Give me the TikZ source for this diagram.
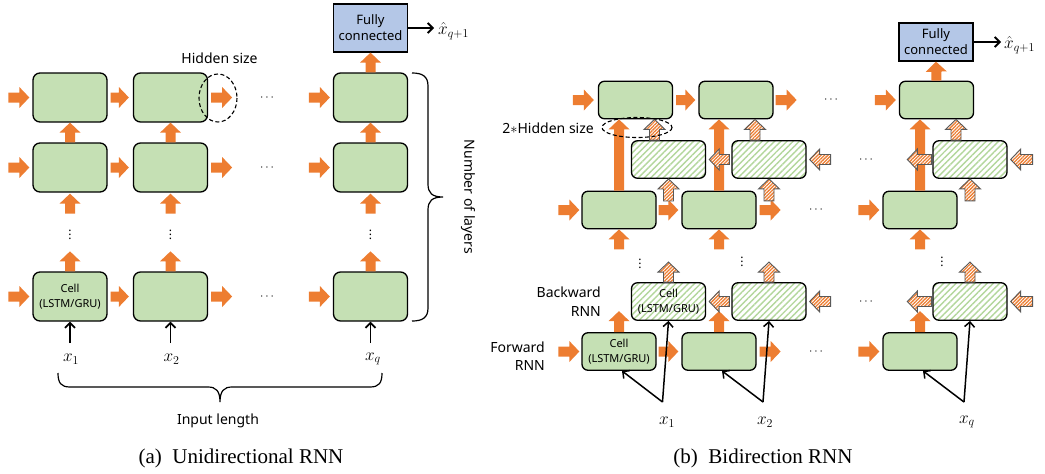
\documentclass[tikz,border=0pt]{standalone}
\usepackage{fontspec}
\setmainfont{Noto Sans}
\newfontfamily\capfont{Liberation Serif}
\usetikzlibrary{calc,arrows.meta,patterns.meta}

\definecolor{rnnorange}{HTML}{ED7D31}
\definecolor{cellgreen}{HTML}{C5E0B4}
\definecolor{hatchgreen}{HTML}{B3D79C}
\definecolor{fcblue}{HTML}{B4C7E7}
\definecolor{hatchedge}{HTML}{595959}

\tikzset{
  % block arrow drawn as a polygon from the start point to the end point
  blk/.style={to path={
    let \p1=(\tikztostart), \p2=(\tikztotarget),
        \n1={atan2(\y2-\y1,\x2-\x1)}, \n2={veclen(\x2-\x1,\y2-\y1)} in
    {[x=1pt,y=1pt,shift={(\p1)},rotate=\n1]
      (0,-5) -- ({\n2-10},-5) -- ({\n2-10},-10.5) -- (\n2,0)
      -- ({\n2-10},10.5) -- ({\n2-10},5) -- (0,5) -- cycle}}},
  fwd/.style={blk, fill=rnnorange},
  bwd/.style={blk, draw=hatchedge, line width=0.9pt, line join=miter,
    preaction={fill=white},
    pattern={Lines[angle=45,distance=2.4pt,line width=1.3pt]}, pattern color=rnnorange},
  cellbase/.style={draw, line width=1.3pt, inner sep=0pt, align=center,
    font=\fontsize{11}{14.5}\selectfont, minimum width=74pt},
  cellA/.style={cellbase, fill=cellgreen, rounded corners=7pt, minimum height=49pt},
  cellF/.style={cellbase, fill=cellgreen, rounded corners=6pt, minimum height=37.5pt},
  cellH/.style={cellbase, rounded corners=6pt, minimum height=37.5pt,
    preaction={fill=white},
    pattern={Lines[angle=45,distance=4.4pt,line width=1.4pt]}, pattern color=hatchgreen},
  fcbox/.style={draw, line width=1.3pt, fill=fcblue, inner sep=0pt, align=center,
    font=\fontsize{13}{16}\selectfont, minimum width=74pt},
  iarrow/.style={-{Straight Barb[length=5pt,width=10pt]}, line width=1.8pt},
  lbl/.style={font=\fontsize{14}{18}\selectfont, inner sep=1pt},
  mlbl/.style={font=\fontsize{18}{20}\selectfont, inner sep=1pt},
  hdots/.style={font=\fontsize{13}{13}\selectfont, inner sep=0pt},
  vdot/.style={font=\fontsize{12}{12}\selectfont, inner sep=0pt},
  oval/.style={draw, dash pattern=on 4pt off 2.5pt, line width=1.1pt},
  brace/.style={line width=1.2pt},
  subcap/.style={font=\capfont\fontsize{21}{24}\selectfont, inner sep=0pt},
}

\begin{document}
\begin{tikzpicture}[x=1pt,y=-1pt]
\useasboundingbox (0,0) rectangle (1045,474);

% ================= (a) unidirectional RNN =================
\foreach \c/\x in {1/70,2/170.5,3/370.5} {
  \node[cellA] (a1\c) at (\x,97.5) {};
  \node[cellA] (a2\c) at (\x,167.5) {};
}
\node[cellA] (a31) at (70,296.5) {Cell\\(LSTM/GRU)};
\node[cellA] (a32) at (170.5,296.5) {};
\node[cellA] (a33) at (370.5,296.5) {};
\node[fcbox, minimum height=48pt] (afc) at (370.5,28) {Fully\\connected};

% recurrent (horizontal) arrows
\foreach \r/\y in {1/97.5,2/167.5,3/297} {
  \path[fwd] ($(a\r1.west)+(-24,0)$) to ($(a\r1.west)+(-3,0)$);
  \path[fwd] ($(a\r1.east)+(3,0)$) to ($(a\r2.west)+(-4,0)$);
  \path[fwd] ($(a\r2.east)+(3,0)$) to ($(a\r2.east)+(24,0)$);
  \path[fwd] ($(a\r3.west)+(-24,0)$) to ($(a\r3.west)+(-3,0)$);
  \node[hdots] (ah\r) at (267,\y) {$\cdots$};
}
% layer-to-layer arrows
\foreach \c/\x in {1/70,2/170.5,3/370.5} {
  \path[fwd] (a2\c.north) to (a1\c.south);
  \path[fwd] ($(a2\c.south)+(0,21)$) to ($(a2\c.south)+(0,1)$);
  \path[fwd] (a3\c.north) to ($(a3\c.north)+(0,-20)$);
  \node[vdot] (av\c) at (\x,232) {$\vdots$};
  \coordinate (ain\c) at (\x,343);
  \draw[iarrow] (ain\c) -- (a3\c.south);
}
\path[fwd] (a13.north) to (afc.south);

\node[mlbl] (ax1) at (71,359) {$x_1$};
\node[mlbl] (ax2) at (171.5,359) {$x_2$};
\node[mlbl] (ax3) at (373,359) {$x_q$};

\node[mlbl, anchor=west] (ya) at (437,31) {$\hat{x}_{q+1}$};
\draw[iarrow, shorten >=3pt] (afc.east) -- (afc.east -| ya.west);

\node[lbl] (hsA) at (219.5,58) {Hidden size};
\draw[oval] (218,98) ellipse [x radius=19, y radius=24];

% braces
\draw[brace] (58,373) .. controls (58,383) and (61,387) .. (70,387) -- (208,387)
  .. controls (216,387) and (220,391) .. (220,402)
  .. controls (220,391) and (224,387) .. (232,387) -- (370,387)
  .. controls (379,387) and (382,383) .. (382,373);
\node[lbl] (inlen) at (218,421) {Input length};
\draw[brace] (412,73) .. controls (422,73) and (428,76) .. (428,86) -- (428,184)
  .. controls (428,193) and (432,197) .. (443,197)
  .. controls (432,197) and (428,201) .. (428,210) -- (428,308)
  .. controls (428,318) and (422,321) .. (412,321);
\node[lbl, rotate=-90] (nlay) at (468,197) {Number of layers};

\node[subcap] (capA) at (241,458) {(a)\ \ Unidirectional RNN};

% ================= (b) bidirectional RNN =================
\foreach \c/\xf/\xb/\xt in {1/619/668.5/635.5, 2/719/769/736, 3/920/970/936.5} {
  \node[cellF] (t\c) at (\xt,100) {};
  \node[cellH] (h\c) at (\xb,159.5) {};
  \node[cellF] (f\c) at (\xf,210) {};
}
\node[cellH] (g1) at (668.5,301.5) {Cell\\(LSTM/GRU)};
\node[cellH] (g2) at (769,301.5) {};
\node[cellH] (g3) at (970,301.5) {};
\node[cellF] (e1) at (619,351.5) {Cell\\(LSTM/GRU)};
\node[cellF] (e2) at (719,351.5) {};
\node[cellF] (e3) at (920,351.5) {};
\node[fcbox, minimum height=38pt] (bfc) at (936,42) {Fully\\connected};

% forward direction, horizontal
\path[fwd] ($(t1.west)+(-25,0)$) to ($(t1.west)+(-4,0)$);
\path[fwd] ($(t1.east)+(3,0)$) to ($(t2.west)+(-3,0)$);
\path[fwd] ($(t2.east)+(2,0)$) to ($(t2.east)+(23,0)$);
\path[fwd] ($(t3.west)+(-24,0)$) to ($(t3.west)+(-3,0)$);
\node[hdots] (bh1) at (831,100) {$\cdots$};
\foreach \r/\y in {f/210,e/352} {
  \path[fwd] ($(\r1.west)+(-23,0)$) to ($(\r1.west)+(-2,0)$);
  \path[fwd] ($(\r1.east)+(2,0)$) to ($(\r2.west)+(-3,0)$);
  \path[fwd] ($(\r2.east)+(3,0)$) to ($(\r2.east)+(24,0)$);
  \path[fwd] ($(\r3.west)+(-24,0)$) to ($(\r3.west)+(-3,0)$);
  \node[hdots] (bh\r) at (816,\y) {$\cdots$};
}
% forward direction, vertical
\foreach \c in {1,2,3} {
  \path[fwd] (f\c.north) to (f\c.north |- t\c.south);
  \path[fwd] ($(f\c.south)+(0,20)$) to (f\c.south);
  \path[fwd] (e\c.north) to ($(e\c.north)+(0,-21)$);
}
\path[fwd] (t3.north) to (bfc.south);

% backward direction
\foreach \r/\y in {h/159.5,g/302} {
  \path[bwd] ($(\r2.west)+(-2,0)$) to ($(\r1.east)+(3,0)$);
  \path[bwd] ($(\r2.east)+(24,0)$) to ($(\r2.east)+(3,0)$);
  \path[bwd] ($(\r3.west)+(-1,0)$) to ($(\r3.west)+(-25,0)$);
  \path[bwd] ($(\r3.east)+(25,0)$) to ($(\r3.east)+(3,0)$);
  \node[hdots] (bk\r) at (866,\y) {$\cdots$};
}
\foreach \c in {1,2,3} {
  \coordinate (hu\c) at ($(h\c.north)+(-14,0)$);
  \path[bwd] (hu\c) to (hu\c |- t\c.south);
  \path[bwd] ($(h\c.south)+(0,22)$) to (h\c.south);
  \path[bwd] (g\c.north) to ($(g\c.north)+(0,-20)$);
}
\node[vdot] (bv1) at (640,261) {$\vdots$};
\node[vdot] (bv2) at (742,259) {$\vdots$};
\node[vdot] (bv3) at (942,259) {$\vdots$};

% inputs
\foreach \c/\x in {1/662.5,2/763,3/964} {
  \coordinate (ap\c) at (\x,402);
  \draw[iarrow, line width=1.5pt] (ap\c) -- ($(e\c.south)+(3,0)$);
  \draw[iarrow, line width=1.5pt] (ap\c) -- (g\c.south);
}
\node[mlbl] (bx1) at (667,422) {$x_1$};
\node[mlbl] (bx2) at (765,422) {$x_2$};
\node[mlbl] (bx3) at (967,422) {$x_q$};

\node[mlbl, anchor=west] (yb) at (1003,45) {$\hat{x}_{q+1}$};
\draw[iarrow, shorten >=2pt] (bfc.east) -- (bfc.east -| yb.west);

\draw[oval] (637,127.5) ellipse [x radius=35, y radius=10];
\node[lbl, anchor=east] (hsB) at (595,128) {2$\ast$Hidden size};
\node[lbl, anchor=east, align=right, font=\fontsize{14}{19}\selectfont] (bwl) at (602,302) {Backward\\RNN};
\node[lbl, anchor=east, align=right, font=\fontsize{14}{18}\selectfont] (fwl) at (546,356) {Forward\\RNN};

\node[subcap] (capB) at (763,458) {(b)\ \ Bidirection RNN};
\end{tikzpicture}
\end{document}
